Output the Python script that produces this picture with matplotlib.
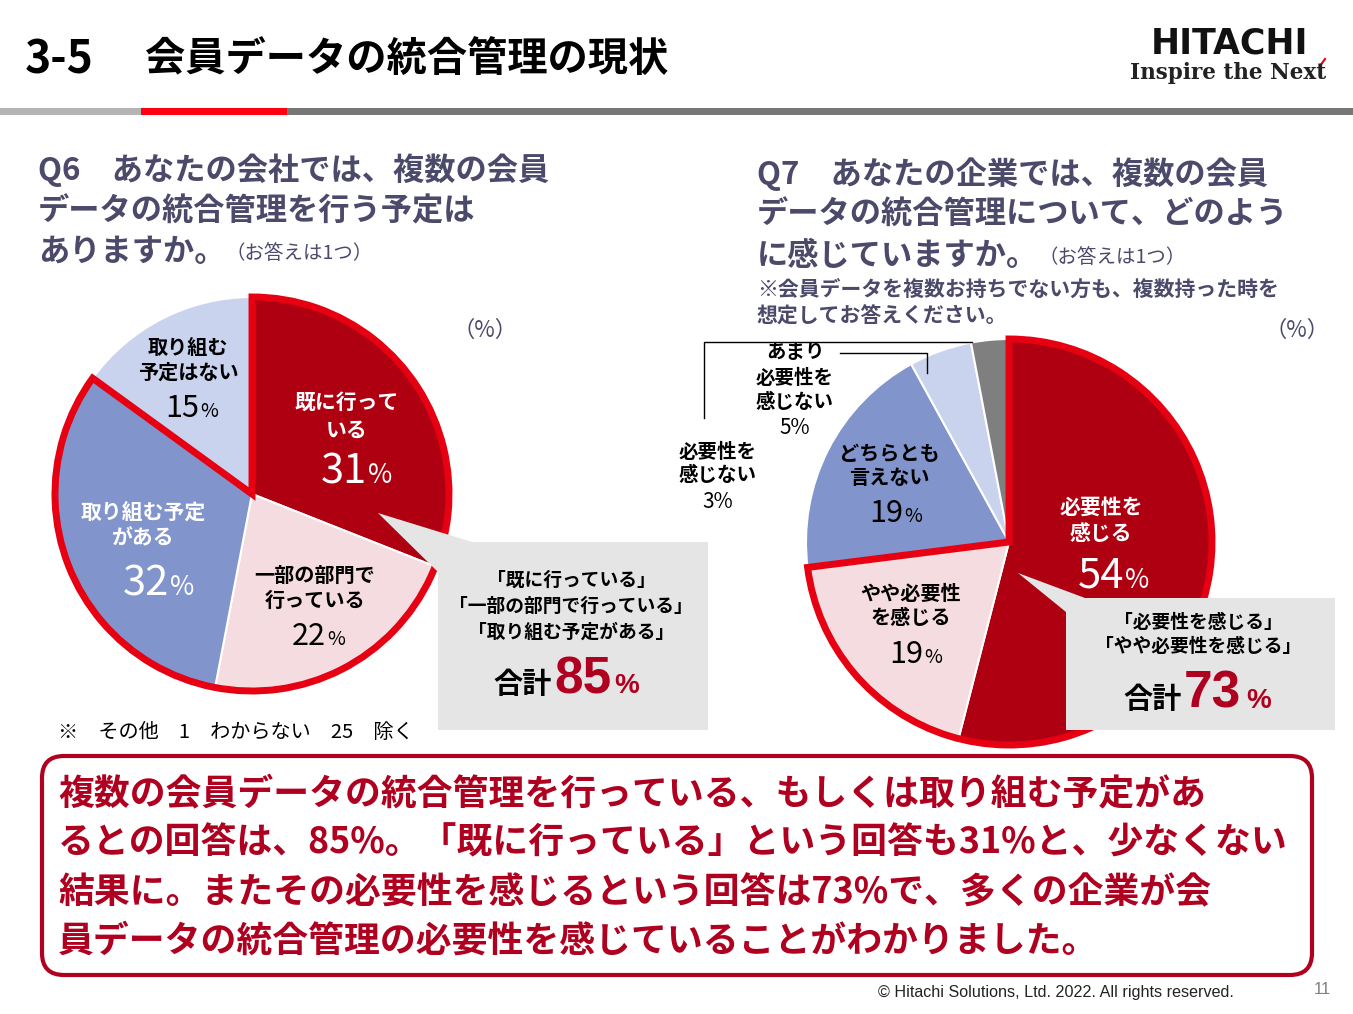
import matplotlib
matplotlib.use('Agg')
import matplotlib.pyplot as plt
from matplotlib.patches import Wedge, Polygon, FancyBboxPatch, Rectangle

plt.rcParams['font.family'] = ['Noto Sans CJK JP', 'DejaVu Sans']

# Q6 answers (%)
q6_labels = [['既に行って', 'いる'], ['一部の部門で', '行っている'], ['取り組む予定', 'がある'], ['取り組む', '予定はない']]
q6_values = [31, 22, 32, 15]
q6_colors = ['#AF0011', '#F4DCE0', '#8194CB', '#C9D3ED']
q6_group = 3   # first 3 answers make the "合計"

# Q7 answers (%)
q7_labels = [['必要性を', '感じる'], ['やや必要性', 'を感じる'], ['どちらとも', '言えない'],
             ['あまり', '必要性を', '感じない'], ['必要性を', '感じない']]
q7_values = [54, 19, 19, 5, 3]
q7_colors = ['#AF0011', '#F4DCE0', '#8194CB', '#C9D3ED', '#7F7F7F']
q7_group = 2

summary = ['複数の会員データの統合管理を行っている、もしくは取り組む予定があ',
           'るとの回答は、85%。「既に行っている」という回答も31%と、少なくない',
           '結果に。またその必要性を感じるという回答は73%で、多くの企業が会',
           '員データの統合管理の必要性を感じていることがわかりました。']

W, H = 1353, 1014
SLATE = '#4B4A6B'
RED = '#E60012'
DARKRED = '#B00020'

fig = plt.figure(figsize=(W / 100, H / 100), dpi=100)
ax = fig.add_axes([0, 0, 1, 1])


def draw_pie(vals, cols, cx, cy, r, ngroup):
    # y axis is flipped, so counterclock in data = clockwise on screen
    ax.pie(vals, colors=cols, startangle=-90, counterclock=True, radius=r, center=(cx, cy),
           wedgeprops=dict(edgecolor='white', linewidth=1.5), frame=True)
    ang = 360.0 * sum(vals[:ngroup]) / sum(vals)
    ax.add_patch(Wedge((cx, cy), r, -90, -90 + ang, fill=False, edgecolor=RED,
                       linewidth=5, joinstyle='miter', zorder=3))


def lines(x, ys, txt, color='black', size=14.5, weight='bold'):
    for y, s in zip(ys, txt):
        ax.text(x, y, s, color=color, fontsize=size, fontweight=weight,
                ha='center', va='center', zorder=6)


def pct(x, y, num, color='black', size=22, psize=14):
    ax.text(x, y, str(num), color=color, fontsize=size, ha='right', va='baseline', zorder=6)
    ax.text(x + 1, y, '%', color=color, fontsize=psize, ha='left', va='baseline', zorder=6)


# ---- header
ax.text(25, 60, '3-5', fontsize=32, fontweight='bold', va='center', ha='left')
ax.text(145, 60, '会員データの統合管理の現状', fontsize=29, fontweight='bold', va='center', ha='left')
ax.add_patch(Rectangle((0, 108), 141, 7, color='#B4B4B4', lw=0))
ax.add_patch(Rectangle((141, 108), 146, 7, color='#FF0012', lw=0))
ax.add_patch(Rectangle((287, 108), W - 287, 7, color='#777777', lw=0))
ax.text(1229, 44, 'HITACHI', family='DejaVu Sans', fontsize=25, fontweight='bold', ha='center', va='center', color='#111111')
ax.text(1228, 73, 'Inspire the Next', family='DejaVu Serif', fontsize=15.5, fontweight='bold', ha='center', va='center', color='#222222')
ax.plot([1320, 1325], [66, 59], color=RED, lw=1.5)

# ---- questions
q6 = ['Q6\u3000あなたの会社では、複数の会員', 'データの統合管理を行う予定は', 'ありますか。']
for y, s in zip([170, 211, 252], q6):
    t = ax.text(38, y, s, color=SLATE, fontsize=22.5, fontweight='bold', va='center')
ax.annotate('（お答えは1つ）', xy=(1, 0.12), xycoords=t, color=SLATE, fontsize=14, va='bottom')

q7 = ['Q7\u3000あなたの企業では、複数の会員', 'データの統合管理について、どのよう', 'に感じていますか。']
for y, s in zip([174, 215, 256], q7):
    t = ax.text(757, y, s, color=SLATE, fontsize=22.5, fontweight='bold', va='center')
ax.annotate('（お答えは1つ）', xy=(1, 0.12), xycoords=t, color=SLATE, fontsize=14, va='bottom')
ax.text(757, 289, '※会員データを複数お持ちでない方も、複数持った時を', color=SLATE, fontsize=15, fontweight='bold', va='center')
ax.text(757, 316, '想定してお答えください。', color=SLATE, fontsize=15, fontweight='bold', va='center')

ax.text(485, 330, '（%）', color=SLATE, fontsize=16, ha='center', va='center')
ax.text(1297, 330, '（%）', color=SLATE, fontsize=16, ha='center', va='center')

# ---- pies
draw_pie(q6_values, q6_colors, 252, 494, 197, q6_group)
draw_pie(q7_values, q7_colors, 1009, 542, 203, q7_group)

# Q6 labels
lines(347, [402, 430], q6_labels[0], 'white', 15)
pct(367, 483, q6_values[0], 'white', 30, 19)
lines(315, [575, 600], q6_labels[1], 'black', 14.5)
pct(326, 645, q6_values[1], 'black', 22, 14)
lines(143, [512, 538], q6_labels[2], 'white', 15)
pct(169, 595, q6_values[2], 'white', 30, 19)
lines(188, [348, 372], q6_labels[3], 'black', 14.5)
pct(199, 417, q6_values[3], 'black', 22, 14)

# Q7 labels
lines(1101, [507, 533], q7_labels[0], 'white', 15)
pct(1124, 588, q7_values[0], 'white', 30, 19)
lines(911, [593, 617], q7_labels[1], 'black', 14.5)
pct(923, 663, q7_values[1], 'black', 22, 14)
lines(889, [453, 477], q7_labels[2], 'black', 14.5)
pct(903, 522, q7_values[2], 'black', 22, 14)
lines(795, [353, 378, 402], q7_labels[3], 'black', 14)
ax.text(795, 428, f'{q7_values[3]}%', fontsize=15, ha='center', va='center', zorder=6)
lines(718, [452, 475], q7_labels[4], 'black', 14)
ax.text(718, 502, f'{q7_values[4]}%', fontsize=15, ha='center', va='center', zorder=6)

# leader lines
ax.plot([840, 927, 927], [353, 353, 373], color='black', lw=1, zorder=5)
ax.plot([704, 704, 972], [418, 342, 342], color='black', lw=1, zorder=5)

# ---- callouts
ax.add_patch(Polygon([(378, 513), (472, 542), (708, 542), (708, 730), (438, 730), (438, 572)],
                     closed=True, color='#E5E5E5', lw=0, zorder=4))
lines(571, [580, 606, 632], ['「既に行っている」', '「一部の部門で行っている」', '「取り組む予定がある」'], 'black', 13.5)
ax.text(552, 693, '合計', fontsize=21, fontweight='bold', ha='right', va='baseline', zorder=6)
ax.text(554, 693, str(sum(q6_values[:q6_group])), family='Liberation Sans', fontsize=37, fontweight='bold',
        color=DARKRED, ha='left', va='baseline', zorder=6)
ax.text(614, 693, '%', family='Liberation Sans', fontsize=20, fontweight='bold', color=DARKRED, ha='left', va='baseline', zorder=6)

ax.add_patch(Polygon([(1018, 573), (1085, 598), (1335, 598), (1335, 730), (1066, 730), (1066, 612)],
                     closed=True, color='#E5E5E5', lw=0, zorder=4))
lines(1198, [622, 646], ['「必要性を感じる」', '「やや必要性を感じる」'], 'black', 13.5)
ax.text(1182, 708, '合計', fontsize=21, fontweight='bold', ha='right', va='baseline', zorder=6)
ax.text(1184, 708, str(sum(q7_values[:q7_group])), family='Liberation Sans', fontsize=37, fontweight='bold',
        color=DARKRED, ha='left', va='baseline', zorder=6)
ax.text(1246, 708, '%', family='Liberation Sans', fontsize=20, fontweight='bold', color=DARKRED, ha='left', va='baseline', zorder=6)

ax.text(58, 732, '※\u3000その他\u30001\u3000わからない\u300025\u3000除く', fontsize=14.5, va='center')

# ---- summary box
ax.add_patch(FancyBboxPatch((42, 756), 1270, 219, boxstyle='round,pad=0,rounding_size=22',
                            fill=False, edgecolor=DARKRED, lw=3, zorder=5))
for y, s in zip([795, 843, 893, 941], summary):
    ax.text(58, y, s, color=DARKRED, fontsize=25.8, fontweight='bold', va='center', zorder=6)

# ---- footer
ax.text(878, 993, '© Hitachi Solutions, Ltd. 2022. All rights reserved.', family='Liberation Sans',
        fontsize=11.6, va='center', color='#222222')
ax.text(1322, 990, '11', family='Liberation Sans', fontsize=12, va='center', ha='center', color='#808080')

ax.set_xlim(0, W)
ax.set_ylim(H, 0)
ax.set_aspect('auto')
ax.axis('off')
fig.savefig('out.png', dpi=100)
